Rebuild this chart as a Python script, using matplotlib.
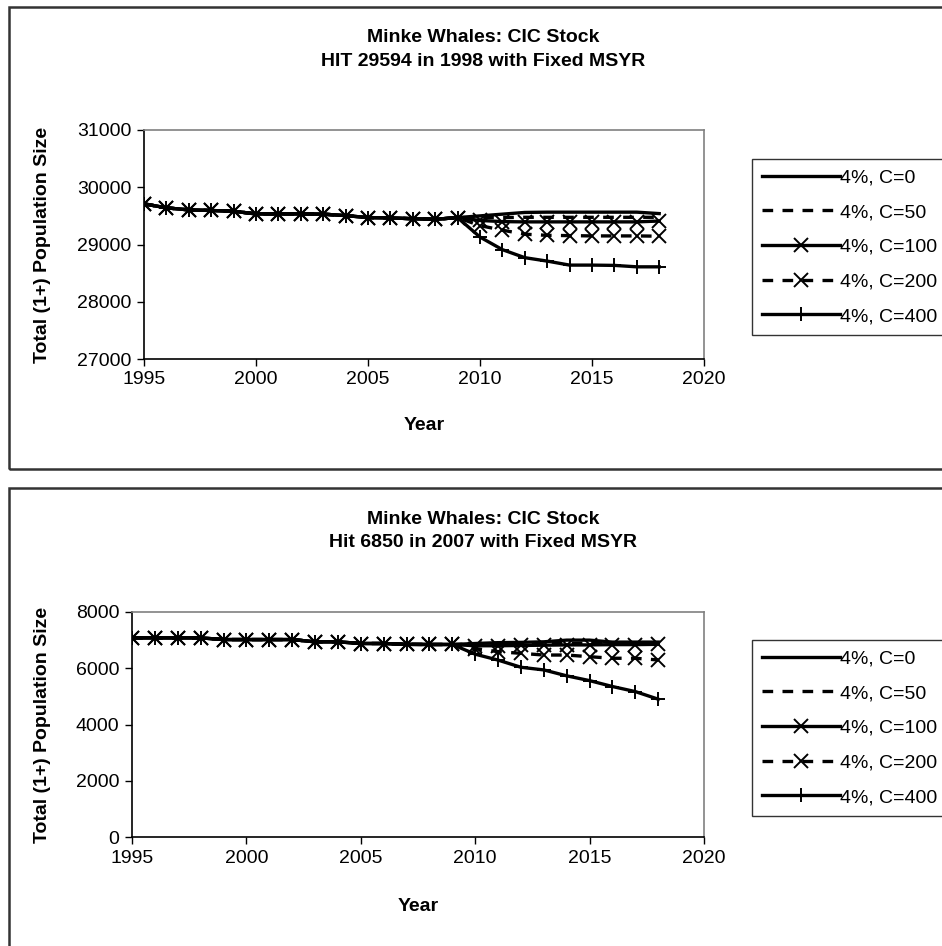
import numpy as np
import matplotlib.pyplot as plt
from matplotlib.patches import Rectangle

plt.rcParams['font.family'] = ['Liberation Sans', 'DejaVu Sans']

W, H = 942, 946

years = list(range(1995, 2019))
labels = ["4%, C=0", "4%, C=50", "4%, C=100", "4%, C=200", "4%, C=400"]

# HIT 29594 in 1998: shared history 1995-2009, then one run per catch level 2010-2018
hist_a = [29710, 29640, 29605, 29594, 29580, 29535, 29535, 29535, 29530, 29505,
          29470, 29465, 29450, 29440, 29470]
runs_a = [
    [29500, 29530, 29560, 29565, 29565, 29565, 29565, 29565, 29540],
    [29470, 29470, 29475, 29475, 29475, 29475, 29475, 29475, 29475],
    [29420, 29400, 29395, 29395, 29395, 29395, 29395, 29395, 29410],
    [29330, 29250, 29180, 29160, 29155, 29150, 29150, 29150, 29145],
    [29130, 28910, 28770, 28710, 28640, 28640, 28635, 28610, 28610],
]

# Hit 6850 in 2007
hist_b = [7080, 7080, 7080, 7080, 7020, 7020, 7020, 7020, 6940, 6940,
          6880, 6880, 6850, 6845, 6845]
runs_b = [
    [6880, 6910, 6920, 6940, 7000, 7000, 6930, 6930, 6930],
    [6860, 6880, 6890, 6890, 6890, 6890, 6890, 6890, 6890],
    [6800, 6800, 6810, 6820, 6830, 6830, 6840, 6840, 6850],
    [6700, 6590, 6530, 6470, 6470, 6410, 6355, 6355, 6295],
    [6500, 6290, 6035, 5940, 5730, 5560, 5350, 5170, 4900],
]

dash = (0, (3.2, 2.8))
styles = [
    dict(ls='-', marker=None),
    dict(ls=dash, marker=None),
    dict(ls='-', marker='x'),
    dict(ls=dash, marker='x'),
    dict(ls='-', marker='+'),
]

fig = plt.figure(figsize=(W / 100, H / 100), dpi=100)


def px(x, y):
    return x / W, 1 - y / H


def panel(top, left, plot_top, plot_bot, hist, runs, ylim, yticks, title2):
    # outer chart border
    x0, y0 = px(9, top + 462)
    fig.patches.append(Rectangle((x0, y0), 1.1, 462 / H, transform=fig.transFigure,
                                 fill=False, lw=1.8, ec='#333333'))

    l, b = px(left, plot_bot)
    r, t = px(704, plot_top)
    ax = fig.add_axes([l, b, r - l, t - b])

    handles = []
    for vals, st, lab in zip(runs, styles, labels):
        y = np.concatenate([hist, vals])
        h, = ax.plot(years, y, color='black', lw=2.4, linestyle=st['ls'],
                     marker=st['marker'], markersize=10, markeredgewidth=1.4,
                     label=lab)
        handles.append(h)

    ax.set_xlim(1995, 2020)
    ax.set_xticks(range(1995, 2021, 5))
    ax.set_ylim(*ylim)
    ax.set_yticks(yticks)
    ax.tick_params(direction='out', length=5, width=1, labelsize=14, pad=4)
    for side in ['left', 'bottom']:
        ax.spines[side].set_color('black')
        ax.spines[side].set_linewidth(1.2)
    for side in ['top', 'right']:
        ax.spines[side].set_color('#808080')
        ax.spines[side].set_linewidth(1.2)

    cx = 483 / W
    fig.text(cx, px(0, top + 31)[1], "Minke Whales: CIC Stock", ha='center',
             va='center', fontsize=14, fontweight='bold')
    fig.text(cx, px(0, top + 54)[1], title2, ha='center', va='center',
             fontsize=14, fontweight='bold')
    fig.text(43 / W, (b + t) / 2, "Total (1+) Population Size", rotation=90,
             ha='center', va='center', fontsize=14, fontweight='bold')
    fig.text((l + r) / 2, px(0, top + 418)[1], "Year", ha='center',
             va='center', fontsize=14, fontweight='bold')

    lx, ly = px(752, top + 152)
    leg = fig.legend(handles=handles, loc='upper left', bbox_to_anchor=(lx, ly),
                     bbox_transform=fig.transFigure, fontsize=14, frameon=True,
                     fancybox=False, edgecolor='black', handlelength=4.0,
                     handletextpad=0.05, labelspacing=0.88, borderpad=0.5,
                     borderaxespad=0)
    leg.get_frame().set_linewidth(1.0)
    return ax


panel(7, 144, 130, 359, hist_a, runs_a, (27000, 31000),
      [27000, 28000, 29000, 30000, 31000], "HIT 29594 in 1998 with Fixed MSYR")
panel(488, 132, 612, 837, hist_b, runs_b, (0, 8000),
      [0, 2000, 4000, 6000, 8000], "Hit 6850 in 2007 with Fixed MSYR")

fig.savefig("out.png", dpi=100)
